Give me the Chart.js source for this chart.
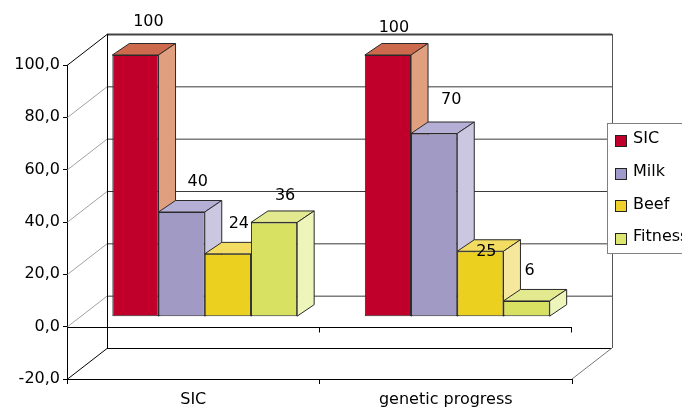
<!DOCTYPE html>
<html>
<head>
<meta charset="utf-8">
<script src="https://cdn.jsdelivr.net/npm/chart.js@4/dist/chart.umd.min.js"></script>
<style>
  html, body { margin: 0; padding: 0; background: #fff; }
  canvas { display: block; }
</style>
</head>
<body>
<canvas id="chart" width="682" height="407"></canvas>
<script>
// ---- data ----
const categories = ['SIC', 'genetic progress'];
const seriesNames = ['SIC', 'Milk', 'Beef', 'Fitness'];
const sicValues = [100, 100];
const milkValues = [40, 70];
const beefValues = [24, 25];
const fitnessValues = [36, 6];
const yTicks = [-20, 0, 20, 40, 60, 80, 100];

// ---- styling ----
const frontColors = ['#C0002A', '#A09AC5', '#EBD020', '#D8E162'];
const topColors   = ['#CD6A4E', '#B5AFD6', '#F2DC62', '#E2E98E'];
const sideColors  = ['#E0A07F', '#CBC7E0', '#F5E79B', '#EEF5BA'];
const legendColors = ['#C0002A', '#A09ACA', '#EFD12E', '#DDE66E'];

// box depth (back wall offset), bar plane offset, bar thickness
const WALL_DX = 40, WALL_DY = -31;
const BAR_DX = 11.5, BAR_DY = -10;
const DEPTH_DX = 17, DEPTH_DY = -11.5;

// small per-label shifts for value labels [series][category]
const labelNudge = [
  [[1, -2], [-6, 4]],
  [[4, 1], [5, -2]],
  [[-1, 1], [-6, 32]],
  [[-1, 5], [-9, 1]]
];

const FONT = '"DejaVu Sans", Verdana, sans-serif';

function line(ctx, x1, y1, x2, y2, color, width) {
  ctx.beginPath();
  ctx.moveTo(x1, y1);
  ctx.lineTo(x2, y2);
  ctx.strokeStyle = color;
  ctx.lineWidth = width;
  ctx.stroke();
}

// walls, floor and back gridlines of the 3D box
const boxPlugin = {
  id: 'box3d',
  beforeDatasetsDraw(chart) {
    const { ctx, chartArea: a, scales: { x, y } } = chart;
    ctx.save();
    const top = y.getPixelForValue(100);
    const bottom = y.getPixelForValue(-20);
    yTicks.forEach(v => {
      const py = y.getPixelForValue(v);
      const edge = (v === 100 || v === -20);
      // left wall diagonal
      line(ctx, a.left, py + 0.5, a.left + WALL_DX, py + WALL_DY + 0.5,
           edge ? '#000' : '#8a8a8a', edge ? 1 : 0.8);
      // back wall gridline
      line(ctx, a.left + WALL_DX, py + WALL_DY + 0.5, a.right + WALL_DX, py + WALL_DY + 0.5,
           v === 100 ? '#444' : (v === -20 ? '#000' : '#3a3a3a'), v === 100 ? 2 : 1);
    });
    // back wall vertical edges
    line(ctx, a.left + WALL_DX + 0.5, top + WALL_DY, a.left + WALL_DX + 0.5, bottom + WALL_DY, '#000', 1);
    line(ctx, a.right + WALL_DX + 0.5, top + WALL_DY, a.right + WALL_DX + 0.5, bottom + WALL_DY, '#555', 1);
    // right floor edge
    line(ctx, a.right, bottom, a.right + WALL_DX, bottom + WALL_DY, '#777', 1);
    // category axis at the zero level
    const z = Math.round(y.getPixelForValue(0)) + 0.5;
    line(ctx, a.left, z, a.right, z, '#000', 1);
    const step = (x.right - x.left) / categories.length;
    for (let k = 1; k <= categories.length; k++) {
      const bx = Math.round(x.left + k * step) - 0.5;
      line(ctx, bx, z, bx, z + 5, '#000', 1);
    }
    ctx.restore();
  },
  beforeDatasetDraw() {
    // bars are drawn below in left-to-right order with their 3D faces
    return false;
  },
  afterDatasetsDraw(chart) {
    const { ctx } = chart;
    ctx.save();
    ctx.translate(BAR_DX, BAR_DY);
    for (let d = 0; d < chart.data.datasets.length; d++) {
      const meta = chart.getDatasetMeta(d);
      meta.data.forEach(el => {
        const { x, y, base, width } = el.getProps(['x', 'y', 'base', 'width'], true);
        const l = x - width / 2, r = x + width / 2;
        el.draw(ctx);
        ctx.lineWidth = 1;
        ctx.strokeStyle = '#2a2a2a';
        ctx.lineJoin = 'round';
        // top face
        ctx.beginPath();
        ctx.moveTo(l, y);
        ctx.lineTo(r, y);
        ctx.lineTo(r + DEPTH_DX, y + DEPTH_DY);
        ctx.lineTo(l + DEPTH_DX, y + DEPTH_DY);
        ctx.closePath();
        ctx.fillStyle = topColors[d];
        ctx.fill();
        ctx.stroke();
        // side face
        ctx.beginPath();
        ctx.moveTo(r, y);
        ctx.lineTo(r + DEPTH_DX, y + DEPTH_DY);
        ctx.lineTo(r + DEPTH_DX, base + DEPTH_DY);
        ctx.lineTo(r, base);
        ctx.closePath();
        ctx.fillStyle = sideColors[d];
        ctx.fill();
        ctx.stroke();
      });
    }
    // value labels
    ctx.font = '16px ' + FONT;
    ctx.fillStyle = '#000';
    ctx.textAlign = 'center';
    ctx.textBaseline = 'middle';
    for (let d = 0; d < chart.data.datasets.length; d++) {
      const meta = chart.getDatasetMeta(d);
      meta.data.forEach((el, i) => {
        const { x, y } = el.getProps(['x', 'y'], true);
        const n = labelNudge[d][i];
        ctx.fillText(String(chart.data.datasets[d].data[i]),
                     x + 12 + n[0], y + DEPTH_DY - 20 + n[1]);
      });
    }
    ctx.restore();
  },
  afterDraw(chart) {
    // legend box
    const { ctx } = chart;
    ctx.save();
    ctx.fillStyle = '#fff';
    ctx.fillRect(608, 123, 100, 130);
    ctx.strokeStyle = '#808080';
    ctx.lineWidth = 1;
    ctx.strokeRect(607.5, 123.5, 100, 130);
    ctx.font = '16px ' + FONT;
    ctx.textAlign = 'left';
    ctx.textBaseline = 'middle';
    seriesNames.forEach((name, i) => {
      const sy = 135 + i * 32.7;
      ctx.fillStyle = legendColors[i];
      ctx.fillRect(615, Math.round(sy), 12, 12);
      ctx.strokeStyle = '#222';
      ctx.strokeRect(615.5, Math.round(sy) + 0.5, 11, 11);
      ctx.fillStyle = '#000';
      ctx.fillText(name, 633, sy + 4);
    });
    ctx.restore();
  }
};

const datasets = [sicValues, milkValues, beefValues, fitnessValues].map((vals, i) => ({
  label: seriesNames[i],
  data: vals,
  backgroundColor: frontColors[i],
  borderColor: '#2a2a2a',
  borderWidth: 1,
  borderSkipped: false,
  barPercentage: 1,
  categoryPercentage: 0.732,
  clip: false
}));

new Chart(document.getElementById('chart'), {
  type: 'bar',
  data: { labels: categories, datasets },
  plugins: [boxPlugin],
  options: {
    responsive: false,
    animation: false,
    devicePixelRatio: 1,
    layout: { padding: { top: 65, right: 110, bottom: 0, left: 0 } },
    plugins: { legend: { display: false }, tooltip: { enabled: false } },
    scales: {
      x: {
        offset: true,
        grid: { drawOnChartArea: false, drawTicks: true, tickLength: 5, color: '#000', offset: true },
        border: { display: true, color: '#000', width: 1 },
        ticks: { color: '#000', font: { family: FONT, size: 16 }, padding: 6, maxRotation: 0 },
        afterFit(scale) { scale.height = 28; }
      },
      y: {
        min: -20,
        max: 100,
        grid: { drawOnChartArea: false, drawTicks: true, tickLength: 4, color: '#000' },
        border: { display: true, color: '#000', width: 1 },
        ticks: {
          stepSize: 20,
          color: '#000',
          padding: 3,
          font: { family: FONT, size: 16 },
          callback: v => v.toFixed(1).replace('.', ',')
        },
        afterFit(scale) { scale.width = 67; }
      }
    }
  }
});
</script>
</body>
</html>
